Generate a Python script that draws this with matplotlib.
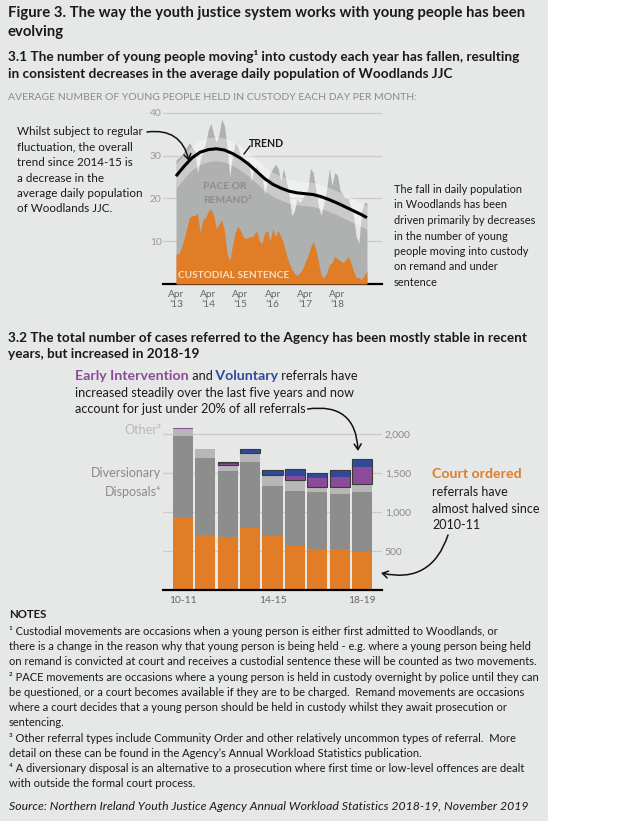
import matplotlib
matplotlib.use("Agg")
import matplotlib.pyplot as plt
from matplotlib.patches import Rectangle, FancyArrowPatch

W, H = 620, 821

# 3.1 average daily population, monthly from Apr 2013
months = list(range(72))
total_custody = [29, 29.5, 30, 31, 32, 33, 32, 31, 26, 29, 31, 33,
                 36, 37.5, 35, 33, 35, 38.5, 37, 32, 25, 30, 33, 32,
                 30, 29, 28, 29, 24, 27, 27.5, 26, 25, 21, 24, 26,
                 27, 28, 27, 24, 27, 24, 21, 16, 17, 20, 19, 20,
                 21, 22, 27, 26, 22, 18, 16, 19, 22, 27, 23, 26,
                 25.5, 22, 21, 20, 20, 18, 16, 11, 9.5, 17, 19, 19]
sentenced = [7, 7, 8.5, 10.5, 13, 15.5, 16, 16, 16.5, 12, 15, 15.5,
             17, 17.5, 16, 13, 14, 15, 12.5, 7, 5.5, 9, 12, 13.5,
             12.5, 11, 10.5, 11, 11, 11.5, 12.5, 10, 9.5, 12, 12.5, 10,
             13, 11, 12.5, 11, 9.5, 7, 5, 3.5, 2.5, 2, 2.5, 3.5,
             5, 6.5, 8.5, 10, 8, 5, 2, 1.5, 2.5, 4.5, 5, 6.5,
             6, 5.5, 5, 5.5, 6.5, 5, 3, 1.5, 1.5, 1, 2, 3]
trend_months = [0, 3, 6, 9, 12, 15, 18, 21, 24, 27, 30, 33, 36, 39, 42,
                45, 48, 51, 54, 57, 60, 63, 66, 69, 71]
trend_values = [25.2, 27.5, 29.5, 30.8, 31.4, 31.6, 31.3, 30.5, 29.4, 28.0,
                26.3, 24.6, 23.3, 22.4, 21.7, 21.3, 21.1, 20.9, 20.4, 19.7,
                18.9, 18.0, 17.1, 16.2, 15.5]
month_ticks = [0, 12, 24, 36, 48, 60]
month_labels = ["Apr\n\u201913", "Apr\n\u201914", "Apr\n\u201915",
                "Apr\n\u201916", "Apr\n\u201917", "Apr\n\u201918"]

# 3.2 referrals by year
years = ["10-11", "11-12", "12-13", "13-14", "14-15",
         "15-16", "16-17", "17-18", "18-19"]
court_ordered = [937, 708, 675, 800, 692, 567, 521, 521, 492]
diversionary = [1034, 984, 846, 846, 645, 708, 741, 716, 766]
other = [96, 112, 87, 112, 134, 133, 63, 80, 100]
early_intervention = [5, 8, 3, 4, 8, 54, 112, 133, 225]
voluntary = [0, 0, 35, 50, 54, 84, 67, 92, 96]

BG = "#e6e7e7"
ORANGE = "#e07d26"
AREA = "#afb0b0"
DARK = "#8d8d8d"
LIGHT = "#b7b7b7"
PURPLE = "#8b4b98"
BLUE = "#2f4a9a"
GRID = "#cbcbcb"
TXT = "#1a1a1a"
MUTED = "#8a8a8a"

plt.rcParams["font.family"] = ["Lato", "DejaVu Sans"]

fig = plt.figure(figsize=(W / 100, H / 100), dpi=100)
fig.patch.set_facecolor("white")
fig.add_artist(Rectangle((0, 0), 548 / W, 1, transform=fig.transFigure,
                         facecolor=BG, edgecolor="none", zorder=0))
renderer = fig.canvas.get_renderer()


def txt(x, y, s, **kw):
    kw.setdefault("color", TXT)
    kw.setdefault("va", "baseline")
    return fig.text(x / W, 1 - y / H, s, **kw)


def lines(x, y0, step, rows, **kw):
    for i, r in enumerate(rows):
        txt(x, y0 + i * step, r, **kw)


def run_line(x, y, parts):
    for s, color, weight, size in parts:
        t = txt(x, y, s, color=color, fontweight=weight, fontsize=size)
        x += t.get_window_extent(renderer=renderer).width


def arrow(p0, p1, rad):
    a = FancyArrowPatch((p0[0] / W, 1 - p0[1] / H), (p1[0] / W, 1 - p1[1] / H),
                        transform=fig.transFigure, arrowstyle="->,head_length=4,head_width=2.5",
                        connectionstyle=f"arc3,rad={rad}", color="#111111", lw=1.1,
                        mutation_scale=1, shrinkA=0, shrinkB=0, zorder=10)
    fig.add_artist(a)


# headings
txt(8, 17, "Figure 3. The way the youth justice system works with young people has been",
    fontsize=10.7, fontweight="bold")
txt(8, 36, "evolving", fontsize=10.7, fontweight="bold")
txt(8, 61, "3.1 The number of young people moving\u00b9 into custody each year has fallen, resulting",
    fontsize=9.85, fontweight="bold")
txt(8, 78, "in consistent decreases in the average daily population of Woodlands JJC",
    fontsize=9.85, fontweight="bold")
txt(8, 100, "AVERAGE NUMBER OF YOUNG PEOPLE HELD IN CUSTODY EACH DAY PER MONTH:",
    fontsize=7.45, color=MUTED)

# ---- top chart
ax1 = fig.add_axes([163 / W, 1 - 284 / H, 219 / W, 180 / H])
ax1.set_facecolor("none")
ax1.fill_between(months, 0, total_custody, color=AREA, lw=0, zorder=2)
ax1.fill_between(months, 0, sentenced, color=ORANGE, lw=0, zorder=3)
band_lo = [v - 2.8 for v in trend_values]
band_hi = [v + 2.8 for v in trend_values]
ax1.fill_between(trend_months, band_lo, band_hi, color="white", alpha=0.34, lw=0, zorder=4)
ax1.plot(trend_months, trend_values, color="black", lw=2.2, zorder=5,
         solid_capstyle="butt")
ax1.set_xlim(-4.83, 76.6)
ax1.set_ylim(0, 42.06)
ax1.set_yticks([10, 20, 30, 40])
ax1.grid(axis="y", color=GRID, lw=0.9, zorder=1)
ax1.set_axisbelow(True)
for s in ["top", "right", "left"]:
    ax1.spines[s].set_visible(False)
ax1.spines["bottom"].set_color("black")
ax1.spines["bottom"].set_linewidth(1.6)
ax1.set_xticks(month_ticks)
ax1.set_xticklabels(month_labels, linespacing=1.15)
ax1.tick_params(axis="x", length=0, pad=4, labelsize=7.3, labelcolor="#666666")
ax1.tick_params(axis="y", length=0, pad=1, labelsize=7.4, labelcolor="#9a9a9a")

txt(249, 147, "TREND", fontsize=7.6, fontweight="bold")
fig.add_artist(plt.Line2D([244 / W, 250 / W], [1 - 154 / H, 1 - 146 / H],
                          transform=fig.transFigure, color="black", lw=0.9))
txt(203, 189, "PACE OR", fontsize=7.4, fontweight="bold", color="#8c8c8c")
txt(203, 203, "REMAND\u00b2", fontsize=7.4, fontweight="bold", color="#8c8c8c")
txt(178, 278, "CUSTODIAL SENTENCE", fontsize=7.3, fontweight="bold", color="#f7dcc0")

lines(17, 135, 15.5, ["Whilst subject to regular", "fluctuation, the overall",
                      "trend since 2014-15 is", "a decrease in the",
                      "average daily population", "of Woodlands JJC."], fontsize=8.4)
arrow((147, 132), (189, 161), -0.45)

lines(394, 193, 15.5, ["The fall in daily population", "in Woodlands has been",
                       "driven primarily by decreases", "in the number of young",
                       "people moving into custody", "on remand and under",
                       "sentence"], fontsize=7.95)

# ---- section 3.2
txt(8, 342, "3.2 The total number of cases referred to the Agency has been mostly stable in recent",
    fontsize=9.8, fontweight="bold")
txt(8, 358, "years, but increased in 2018-19", fontsize=9.8, fontweight="bold")
run_line(75, 380, [("Early Intervention", PURPLE, "bold", 10.2),
                   (" and", TXT, "normal", 9.1),
                   (" Voluntary", BLUE, "bold", 10.2),
                   (" referrals have", TXT, "normal", 9.1)])
txt(75, 397, "increased steadily over the last five years and now", fontsize=9.1)
t3 = txt(75, 413, "account for just under 20% of all referrals", fontsize=9.1)
end_x = 75 + t3.get_window_extent(renderer=renderer).width
arrow((end_x + 2, 409), (358, 451), -0.55)

ax2 = fig.add_axes([163 / W, 1 - 590 / H, 219 / W, 170 / H])
ax2.set_facecolor("none")
x = list(range(len(years)))
bw = 0.894
b1 = court_ordered
b2 = [a + b for a, b in zip(b1, diversionary)]
b3 = [a + b for a, b in zip(b2, other)]
b4 = [a + b for a, b in zip(b3, early_intervention)]
ax2.bar(x, court_ordered, bw, color=ORANGE, zorder=2)
ax2.bar(x, diversionary, bw, bottom=b1, color=DARK, zorder=2)
ax2.bar(x, other, bw, bottom=b2, color=LIGHT, zorder=2)
ax2.bar(x, early_intervention, bw, bottom=b3, color=PURPLE, zorder=2)
ax2.bar(x, voluntary, bw, bottom=b4, color=BLUE, zorder=2)
boxed = [i for i in x if voluntary[i] > 0]
ax2.bar(boxed, [early_intervention[i] + voluntary[i] for i in boxed], bw,
        bottom=[b3[i] for i in boxed], fill=False, edgecolor="#3a3a3a", lw=0.8, zorder=3)
ax2.set_xlim(-0.894, 8.894)
ax2.set_ylim(0, 2179.5)
ax2.set_yticks([500, 1000, 1500, 2000])
ax2.set_yticklabels(["500", "1,000", "1,500", "2,000"])
ax2.yaxis.tick_right()
ax2.grid(axis="y", color=GRID, lw=0.9, zorder=0)
ax2.set_axisbelow(True)
for s in ["top", "right", "left"]:
    ax2.spines[s].set_visible(False)
ax2.spines["bottom"].set_linewidth(1.6)
ax2.set_xticks([0, 4, 8])
ax2.set_xticklabels([years[0], years[4], years[8]])
ax2.tick_params(axis="x", length=0, pad=4, labelsize=7.4, labelcolor="#666666")
ax2.tick_params(axis="y", length=0, pad=2, labelsize=7.4, labelcolor=MUTED)

txt(161, 434, "Other\u00b3", fontsize=9, color="#b9b9b9", ha="right")
txt(161, 477, "Diversionary", fontsize=9, color=MUTED, ha="right")
txt(161, 496, "Disposals\u2074", fontsize=9, color=MUTED, ha="right")

txt(432, 478, "Court ordered", fontsize=10.2, fontweight="bold", color=ORANGE)
lines(432, 496, 16.7, ["referrals have", "almost halved since", "2010-11"], fontsize=9.0)
arrow((448, 535), (381, 573), -0.45)

# ---- notes
txt(9, 618, "NOTES", fontsize=8.2, fontweight="bold")
notes = [
    "\u00b9 Custodial movements are occasions when a young person is either first admitted to Woodlands, or",
    "there is a change in the reason why that young person is being held - e.g. where a young person being held",
    "on remand is convicted at court and receives a custodial sentence these will be counted as two movements.",
    "\u00b2 PACE movements are occasions where a young person is held in custody overnight by police until they can",
    "be questioned, or a court becomes available if they are to be charged.  Remand movements are occasions",
    "where a court decides that a young person should be held in custody whilst they await prosecution or",
    "sentencing.",
    "\u00b3 Other referral types include Community Order and other relatively uncommon types of referral.  More",
    "detail on these can be found in the Agency\u2019s Annual Workload Statistics publication.",
    "\u2074 A diversionary disposal is an alternative to a prosecution where first time or low-level offences are dealt",
    "with outside the formal court process.",
]
lines(9, 635, 15.23, notes, fontsize=8.05)
txt(9, 810, "Source: Northern Ireland Youth Justice Agency Annual Workload Statistics 2018-19, November 2019",
    fontsize=8.8, style="italic")

fig.savefig("out.png", dpi=100, facecolor=fig.get_facecolor())
